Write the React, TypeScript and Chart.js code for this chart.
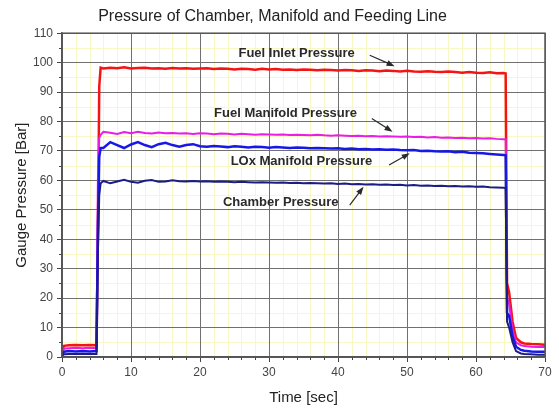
import React, { useEffect, useRef } from "react";
import { Chart, registerables } from "chart.js";

Chart.register(...registerables);

const FONT = "'Liberation Sans', Arial, Helvetica, sans-serif";

const TITLE = "Pressure of Chamber, Manifold and Feeding Line";
const X_TITLE = "Time [sec]";
const Y_TITLE = "Gauge Pressure [Bar]";

// time stamps (sec)
const TIME = [
  0, 0.3, 1, 2, 3, 4, 5, 5.2, 5.4, 5.6,
  6, 7, 8, 9, 10, 11, 12, 13, 14, 15, 16, 17, 18, 19, 20,
  21, 22, 23, 24, 25, 26, 27, 28, 29, 30, 31, 32, 33, 34, 35,
  36, 37, 38, 39, 40, 41, 42, 43, 44, 45, 46, 47, 48, 49, 50,
  51, 52, 53, 54, 55, 56, 57, 58, 59, 60, 61, 62, 63, 64,
  64.3, 64.5, 64.8, 65.3, 65.8, 66.5, 67, 68, 69, 70,
];

const FUEL_INLET = [
  2.0, 3.8, 4.0, 4.1, 4.0, 4.1, 4.0, 40, 92, 98.3,
  98.0, 98.3, 98.1, 98.4, 98.0, 98.2, 98.3, 98.0, 98.1, 97.9, 98.2, 98.0, 98.1, 97.9, 98.0,
  98.1, 97.8, 98.0, 97.9, 97.7, 97.9, 97.8, 97.6, 97.9, 97.7, 97.8, 97.6, 97.7, 97.5, 97.7,
  97.6, 97.4, 97.6, 97.5, 97.3, 97.5, 97.4, 97.2, 97.4, 97.3, 97.1, 97.3, 97.2, 97.0, 97.2,
  97.0, 96.9, 97.1, 96.9, 96.8, 97.0, 96.8, 96.6, 96.8, 96.6, 96.5, 96.7, 96.4, 96.5,
  96.3, 25, 22, 12, 6.5, 5.0, 4.6, 4.4, 4.3, 4.2,
];

const FUEL_MANIFOLD = [
  1.5, 2.8, 3.0, 3.1, 3.0, 3.1, 3.0, 60, 74.5, 75.5,
  76.5, 76.2, 75.8, 76.4, 76.0, 76.5, 76.1, 75.9, 76.3, 76.0, 76.1, 75.9, 76.0, 75.8, 76.0,
  75.9, 75.7, 75.9, 75.8, 75.6, 75.8, 75.7, 75.5, 75.7, 75.6, 75.5, 75.6, 75.4, 75.5, 75.4,
  75.3, 75.5, 75.3, 75.2, 75.3, 75.2, 75.1, 75.2, 75.0, 75.1, 74.9, 75.0, 74.9, 74.8, 74.9,
  74.7, 74.8, 74.6, 74.7, 74.5, 74.6, 74.4, 74.5, 74.3, 74.4, 74.2, 74.3, 74.1, 74.0,
  74.0, 20, 18, 9, 5, 4.0, 3.7, 3.5, 3.4, 3.4,
];

const LOX_MANIFOLD = [
  1.0, 1.8, 2.0, 1.9, 2.0, 1.9, 2.0, 43, 68, 71,
  71.0, 73.0, 72.0, 71.0, 72.2, 73.0, 72.0, 71.3, 72.3, 72.8, 72.0, 71.4, 72.0, 72.3, 71.6,
  71.4, 71.7, 71.5, 71.3, 71.6, 71.4, 71.2, 71.4, 71.3, 71.1, 71.3, 71.2, 71.0, 71.2, 71.1,
  70.9, 71.0, 70.9, 70.8, 70.9, 70.7, 70.8, 70.6, 70.7, 70.5, 70.6, 70.4, 70.5, 70.3, 70.2,
  70.3, 70.0, 70.1, 69.9, 69.8, 69.9, 69.6, 69.7, 69.4, 69.3, 69.2, 69.0, 68.8, 68.6,
  68.5, 15, 14, 7, 3.5, 2.4, 2.1, 1.9, 1.8, 1.8,
];

const CHAMBER = [
  0.5, 0.9, 1.0, 1.0, 1.1, 1.0, 1.0, 35, 55, 59,
  59.8, 59.0, 59.6, 60.2, 59.5, 59.2, 59.9, 60.1, 59.5, 59.6, 60.0, 59.7, 59.6, 59.8, 59.6,
  59.7, 59.5, 59.6, 59.5, 59.4, 59.5, 59.4, 59.3, 59.4, 59.3, 59.2, 59.3, 59.1, 59.2, 59.0,
  59.1, 59.0, 58.9, 59.0, 58.8, 58.9, 58.7, 58.8, 58.6, 58.7, 58.5, 58.6, 58.4, 58.5, 58.3,
  58.4, 58.2, 58.3, 58.1, 58.2, 58.0, 58.1, 57.9, 58.0, 57.8, 57.9, 57.7, 57.6, 57.5,
  57.4, 12, 10, 5, 2.0, 1.2, 1.0, 0.9, 0.8, 0.8,
];

// annotation labels (data units)
const ANNOTATION_TEXT = ["Fuel Inlet Pressure", "Fuel Manifold Pressure", "LOx Manifold Pressure", "Chamber Pressure"];
const ANNOTATION_POS = [
  [34.0, 103.3],
  [32.4, 82.9],
  [34.7, 66.6],
  [31.7, 52.4],
];
const ARROW_FROM = [
  [44.6, 102.5],
  [44.9, 81.0],
  [47.4, 65.2],
  [41.7, 51.6],
];
const ARROW_TO = [
  [48.2, 98.8],
  [47.9, 76.5],
  [50.4, 69.2],
  [43.7, 57.8],
];

const toPoints = (vals: number[]) => vals.map((v, i) => ({ x: TIME[i], y: v }));

const gridPlugin = {
  id: "minorGrid",
  beforeDraw(chart: any) {
    const { ctx, chartArea } = chart;
    const xs = chart.scales.x;
    const ys = chart.scales.y;
    ctx.save();
    ctx.fillStyle = "#ffffff";
    ctx.fillRect(chartArea.left, chartArea.top, chartArea.right - chartArea.left, chartArea.bottom - chartArea.top);
    ctx.strokeStyle = "#f8f8c4";
    ctx.lineWidth = 1;
    for (let v = 2; v < 70; v += 2) {
      if (v % 10 === 0) continue;
      const px = Math.round(xs.getPixelForValue(v)) + 0.5;
      ctx.beginPath();
      ctx.moveTo(px, chartArea.top);
      ctx.lineTo(px, chartArea.bottom);
      ctx.stroke();
    }
    for (let v = 5; v < 110; v += 10) {
      const py = Math.round(ys.getPixelForValue(v)) + 0.5;
      ctx.beginPath();
      ctx.moveTo(chartArea.left, py);
      ctx.lineTo(chartArea.right, py);
      ctx.stroke();
    }
    ctx.restore();
  },
  afterDraw(chart: any) {
    const { ctx, chartArea } = chart;
    const xs = chart.scales.x;
    const ys = chart.scales.y;
    ctx.save();
    ctx.strokeStyle = "#444";
    ctx.lineWidth = 1;
    // minor ticks
    for (let v = 2; v < 70; v += 2) {
      if (v % 10 === 0) continue;
      const px = Math.round(xs.getPixelForValue(v)) + 0.5;
      ctx.beginPath();
      ctx.moveTo(px, chartArea.bottom);
      ctx.lineTo(px, chartArea.bottom + 3);
      ctx.stroke();
    }
    for (let v = 5; v < 110; v += 10) {
      const py = Math.round(ys.getPixelForValue(v)) + 0.5;
      ctx.beginPath();
      ctx.moveTo(chartArea.left - 3, py);
      ctx.lineTo(chartArea.left, py);
      ctx.stroke();
    }
    // frame
    ctx.lineWidth = 1.5;
    ctx.strokeStyle = "#555";
    ctx.strokeRect(chartArea.left, chartArea.top, chartArea.right - chartArea.left, chartArea.bottom - chartArea.top);

    // annotations
    ctx.fillStyle = "#2a2a2a";
    ctx.strokeStyle = "#2a2a2a";
    ctx.font = `bold 13px ${FONT}`;
    ctx.textAlign = "center";
    ctx.textBaseline = "middle";
    ANNOTATION_TEXT.forEach((t, i) => {
      const [tx, ty] = ANNOTATION_POS[i];
      ctx.fillText(t, xs.getPixelForValue(tx), ys.getPixelForValue(ty));
      const x1 = xs.getPixelForValue(ARROW_FROM[i][0]);
      const y1 = ys.getPixelForValue(ARROW_FROM[i][1]);
      const x2 = xs.getPixelForValue(ARROW_TO[i][0]);
      const y2 = ys.getPixelForValue(ARROW_TO[i][1]);
      const ang = Math.atan2(y2 - y1, x2 - x1);
      ctx.lineWidth = 1.2;
      ctx.beginPath();
      ctx.moveTo(x1, y1);
      ctx.lineTo(x2 - 5 * Math.cos(ang), y2 - 5 * Math.sin(ang));
      ctx.stroke();
      ctx.beginPath();
      ctx.moveTo(x2, y2);
      ctx.lineTo(x2 - 8 * Math.cos(ang) + 3 * Math.sin(ang), y2 - 8 * Math.sin(ang) - 3 * Math.cos(ang));
      ctx.lineTo(x2 - 8 * Math.cos(ang) - 3 * Math.sin(ang), y2 - 8 * Math.sin(ang) + 3 * Math.cos(ang));
      ctx.closePath();
      ctx.fill();
    });
    ctx.restore();
  },
};

export default function App() {
  const ref = useRef<HTMLCanvasElement | null>(null);
  useEffect(() => {
    document.body.style.margin = "0";
    const canvas = ref.current!;
    const chart = new Chart(canvas, {
      type: "line",
      data: {
        datasets: [
          { label: "Chamber Pressure", data: toPoints(CHAMBER), borderColor: "#1c1c86", borderWidth: 2 },
          { label: "LOx Manifold Pressure", data: toPoints(LOX_MANIFOLD), borderColor: "#1818e6", borderWidth: 2.5 },
          { label: "Fuel Manifold Pressure", data: toPoints(FUEL_MANIFOLD), borderColor: "#e81ee8", borderWidth: 2 },
          { label: "Fuel Inlet Pressure", data: toPoints(FUEL_INLET), borderColor: "#f41414", borderWidth: 2.5 },
        ].map((d) => ({ ...d, pointRadius: 0, tension: 0, fill: false })),
      },
      options: {
        animation: false,
        responsive: false,
        devicePixelRatio: 1,
        layout: { padding: { left: 0, right: 14, top: 0, bottom: 0 } },
        plugins: {
          legend: { display: false },
          tooltip: { enabled: false },
          title: {
            display: true,
            text: TITLE,
            color: "#222",
            font: { family: FONT, size: 16, weight: "normal" },
            padding: { top: 7, bottom: 7 },
          },
        },
        scales: {
          x: {
            type: "linear",
            min: 0,
            max: 70,
            ticks: { stepSize: 10, color: "#444", font: { family: FONT, size: 12 }, padding: 3, maxRotation: 0 },
            grid: { color: "#707070", lineWidth: 1, drawTicks: true, tickLength: 5, tickColor: "#444" },
            border: { display: true, color: "#555", width: 1.5 },
            title: { display: true, text: X_TITLE, color: "#222", font: { family: FONT, size: 15 }, padding: { top: 0, bottom: 3 } },
            afterFit: (s: any) => { s.height = 53; },
          },
          y: {
            type: "linear",
            min: 0,
            max: 110,
            ticks: { stepSize: 10, color: "#444", font: { family: FONT, size: 12 }, padding: 4 },
            grid: { color: "#707070", lineWidth: 1, drawTicks: true, tickLength: 5, tickColor: "#444" },
            border: { display: true, color: "#555", width: 1.5 },
            title: { display: true, text: Y_TITLE, color: "#222", font: { family: FONT, size: 15 }, padding: { top: 13, bottom: 0 } },
            afterFit: (s: any) => { s.width = 62; },
          },
        },
      },
      plugins: [gridPlugin],
    } as any);
    return () => chart.destroy();
  }, []);
  return <canvas ref={ref} width={559} height={410} style={{ display: "block", width: 559, height: 410 }} />;
}
